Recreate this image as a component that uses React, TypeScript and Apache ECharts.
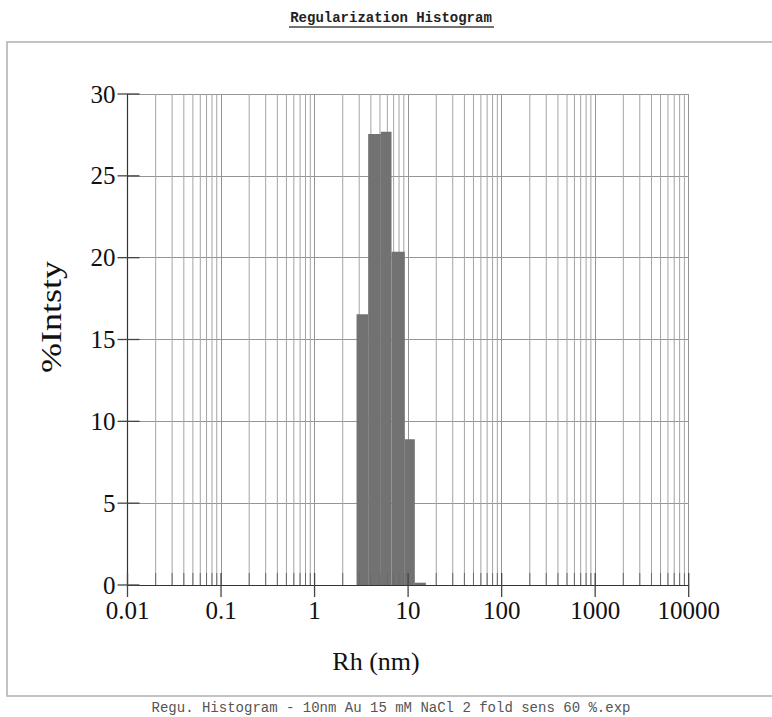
import React, { useEffect, useRef } from "react";
import * as echarts from "echarts";

// Histogram bin edges (Rh, nm) and % intensity per bin
const binEdges = [2.81, 3.74, 5.11, 6.65, 9.22, 11.8, 15.5];
const intensity = [16.55, 27.55, 27.69, 20.36, 8.9, 0.14];

// Axis ticks
const xDecades = [0.01, 0.1, 1, 10, 100, 1000, 10000];
const xMinorMultipliers = [2, 3, 4, 5, 6, 7, 8, 9];
const yTicks = [0, 5, 10, 15, 20, 25, 30];

const titleText = "Regularization Histogram";
const footerText = "Regu. Histogram - 10nm Au 15 mM NaCl 2 fold sens 60 %.exp";
const xName = "Rh (nm)";
const yName = "%Intsty";

const SERIF = "'Liberation Serif', 'DejaVu Serif', serif";
const MONO = "'Liberation Mono', 'DejaVu Sans Mono', monospace";

export default function App() {
  const ref = useRef<HTMLDivElement>(null);
  useEffect(() => {
    document.body.style.margin = "0";
    const chart = echarts.init(ref.current!, null, { renderer: "svg" });

    const minorX: number[] = [];
    for (let i = 0; i < xDecades.length - 1; i++) {
      for (const m of xMinorMultipliers) minorX.push(Number((xDecades[i] * m).toPrecision(6)));
    }
    const bars = intensity.map((v, i) => [binEdges[i], binEdges[i + 1], v]);
    const yMin = yTicks[0];
    const yMax = yTicks[yTicks.length - 1];

    chart.setOption({
      animation: false,
      backgroundColor: "#ffffff",
      grid: { left: 127.5, right: 83.3, top: 94, bottom: 132 },
      xAxis: {
        type: "log",
        logBase: 10,
        min: xDecades[0],
        max: xDecades[xDecades.length - 1],
        axisLine: { show: true, onZero: false, lineStyle: { color: "#333", width: 1.2 } },
        axisTick: { show: false },
        axisLabel: {
          fontFamily: SERIF,
          fontSize: 25,
          color: "#111",
          margin: 13,
          formatter: (v: number) => String(Number(v.toPrecision(6))),
        },
        splitLine: { show: true, lineStyle: { color: "#959595", width: 1 } },
      },
      yAxis: {
        type: "value",
        min: yMin,
        max: yMax,
        interval: 5,
        axisLine: { show: true, lineStyle: { color: "#333", width: 1.2 } },
        axisTick: { show: false },
        axisLabel: { fontFamily: SERIF, fontSize: 25, color: "#111", margin: 12 },
        splitLine: { show: true, lineStyle: { color: "#959595", width: 1 } },
      },
      graphic: [
        {
          type: "rect",
          shape: { x: 7, y: 42, width: 775, height: 654 },
          style: { fill: "none", stroke: "#b0b0b0", lineWidth: 1.5 },
          silent: true,
        },
        {
          type: "text",
          x: 391,
          y: 18,
          style: {
            text: titleText,
            fontFamily: MONO,
            fontSize: 14,
            fontWeight: "bold",
            fill: "#222",
            align: "center",
            verticalAlign: "middle",
          },
        },
        {
          type: "line",
          shape: { x1: 289, y1: 27, x2: 494, y2: 27 },
          style: { stroke: "#444", lineWidth: 1.5 },
        },
        {
          type: "text",
          x: 391,
          y: 708,
          style: {
            text: footerText,
            fontFamily: MONO,
            fontSize: 14,
            fill: "#555",
            align: "center",
            verticalAlign: "middle",
          },
        },
        {
          type: "text",
          x: 376,
          y: 661,
          style: {
            text: xName,
            fontFamily: SERIF,
            fontSize: 26,
            fill: "#111",
            align: "center",
            verticalAlign: "middle",
          },
        },
        {
          type: "text",
          x: 51,
          y: 317,
          rotation: Math.PI / 2,
          scaleX: 1.2,
          style: {
            text: yName,
            fontFamily: SERIF,
            fontSize: 30,
            fill: "#111",
            align: "center",
            verticalAlign: "middle",
          },
        },
      ],
      series: [
        {
          type: "custom",
          name: "minorGrid",
          z: 1,
          silent: true,
          data: minorX.map((v) => [v, yMin]),
          renderItem: (params: any, api: any) => {
            const b = api.coord([api.value(0), yMin]);
            const t = api.coord([api.value(0), yMax]);
            return {
              type: "line",
              shape: { x1: b[0], y1: b[1], x2: t[0], y2: t[1] },
              style: { stroke: "#a4a4a4", lineWidth: 1 },
            };
          },
        },
        {
          type: "custom",
          name: "histogram",
          z: 2,
          data: bars,
          encode: { x: [0, 1], y: 2 },
          renderItem: (params: any, api: any) => {
            const p0 = api.coord([api.value(0), yMin]);
            const p1 = api.coord([api.value(1), api.value(2)]);
            return {
              type: "rect",
              shape: { x: p0[0], y: p1[1], width: p1[0] - p0[0], height: p0[1] - p1[1] },
              style: { fill: "#727272" },
            };
          },
        },
        {
          type: "custom",
          name: "xTicks",
          z: 3,
          silent: true,
          data: [...xDecades.map((v) => [v, 1]), ...minorX.map((v) => [v, 0])],
          renderItem: (params: any, api: any) => {
            const p = api.coord([api.value(0), yMin]);
            const major = api.value(1) === 1;
            return {
              type: "line",
              shape: { x1: p[0], y1: p[1] + (major ? 12 : 0), x2: p[0], y2: p[1] - 12 },
              style: { stroke: major ? "#444" : "#6a6a6a", lineWidth: major ? 1.3 : 1 },
            };
          },
        },
        {
          type: "custom",
          name: "yTicks",
          z: 3,
          silent: true,
          data: yTicks.map((v) => [xDecades[0], v]),
          renderItem: (params: any, api: any) => {
            const p = api.coord([xDecades[0], api.value(1)]);
            return {
              type: "line",
              shape: { x1: p[0] - 10, y1: p[1], x2: p[0] + 12, y2: p[1] },
              style: { stroke: "#444", lineWidth: 1.3 },
            };
          },
        },
      ],
    });
    return () => chart.dispose();
  }, []);
  return <div ref={ref} style={{ width: 772, height: 717 }} />;
}
